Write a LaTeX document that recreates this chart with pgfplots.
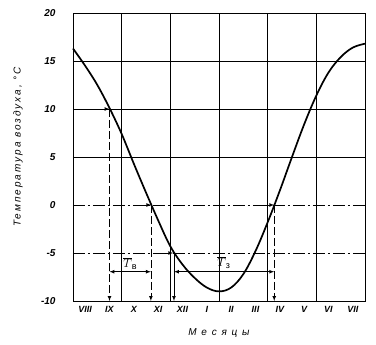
\documentclass[border=0pt]{standalone}
\usepackage{pgfplots}
\pgfplotsset{compat=1.18}
\usepackage{fontspec}
\setmainfont{Liberation Sans}
\newfontfamily\spaced[LetterSpace=20]{Liberation Sans}
\begin{document}
\begin{tikzpicture}
\useasboundingbox (-73pt,-44pt) rectangle (303pt,301pt);
\begin{axis}[
  scale only axis, width=292pt, height=288pt,
  xmin=0, xmax=12, ymin=-10, ymax=20,
  xtick={0.5,1.5,2.5,3.5,4.5,5.5,6.5,7.5,8.5,9.5,10.5,11.5},
  xticklabels={VIII,IX,X,XI,XII,I,II,III,IV,V,VI,VII},
  ytick={-10,-5,0,5,10,15,20},
  major tick length=0pt,
  tick label style={font=\bfseries\itshape\normalsize},
  xticklabel style={font=\bfseries\itshape\small, yshift=-2pt},
  /pgf/number format/assume math mode=true,
  yticklabel style={xshift=-14pt},
  axis line style={line width=0.9pt},
  clip=false,
]
% grid
\foreach \yy in {5,10,15}{\edef\tmp{\noexpand\draw[line width=0.7pt] (axis cs:0,\yy) -- (axis cs:12,\yy);}\tmp}
\foreach \xx in {2,4,6,8,10}{\edef\tmp{\noexpand\draw[line width=0.7pt] (axis cs:\xx,-10) -- (axis cs:\xx,20);}\tmp}
\draw[line width=0.6pt, dash pattern=on 12pt off 3pt on 2pt off 3pt] (axis cs:0,0) -- (axis cs:12,0);
\draw[line width=0.6pt, dash pattern=on 12pt off 3pt on 2pt off 3pt] (axis cs:0,-5) -- (axis cs:12,-5);
% curve
\addplot[black, line width=1.7pt, smooth, tension=0.6] coordinates {
(0,16.3) (0.5,14.5) (1.0,12.5) (1.5,10.1) (2.0,7.4) (2.5,4.3) (3.0,1.3)
(3.5,-1.6) (4.0,-4.3) (4.5,-6.2) (5.0,-7.6) (5.5,-8.6) (6.0,-9.0) (6.5,-8.6)
(7.0,-7.2) (7.5,-4.8) (8.0,-1.8) (8.5,1.5) (9.0,5.0) (9.5,8.4) (10.0,11.4)
(10.5,13.8) (11.0,15.4) (11.5,16.4) (12,16.8)};
% construction lines
\addplot[black, line width=0.7pt, dash pattern=on 8pt off 3pt, -latex] coordinates {(1.5,10) (1.5,-10)};
\addplot[black, line width=0.7pt, dash pattern=on 8pt off 3pt, -latex] coordinates {(3.2,0) (3.2,-10)};
\addplot[black, line width=0.7pt, -latex] coordinates {(4.15,-5) (4.15,-10)};
\addplot[black, line width=0.7pt, dash pattern=on 8pt off 3pt, -latex] coordinates {(8.27,0) (8.27,-10)};
% horizontal arrows
\addplot[black, line width=0.7pt, -latex] coordinates {(0.9,10) (1.5,10)};
\addplot[black, line width=0.7pt, -latex] coordinates {(2.6,0) (3.22,0)};
\addplot[black, line width=0.7pt, -latex] coordinates {(7.7,0) (8.27,0)};
\addplot[black, line width=0.7pt, -latex] coordinates {(3.5,-5) (4.12,-5)};
% interval arrows
\addplot[black, line width=0.7pt, latex-latex] coordinates {(1.5,-6.95) (3.2,-6.95)};
\addplot[black, line width=0.7pt, latex-latex] coordinates {(4.15,-6.95) (8.27,-6.95)};
\node[font=\large] at (axis cs:2.35,-6.1) {$\overline{T}_{\mbox{\small в}}$};
\node[font=\large] at (axis cs:6.2,-6.0) {$\overline{T}_{\mbox{\small з}}$};
% labels
\node[rotate=90, font=\spaced\itshape\normalsize] at ([xshift=-55pt]rel axis cs:0,0.535) {Температура воздуха, °С};
\node[font=\spaced\itshape\normalsize] at ([yshift=-32pt]rel axis cs:0.5,0) {М е с я ц ы};
\end{axis}
\end{tikzpicture}
\end{document}
